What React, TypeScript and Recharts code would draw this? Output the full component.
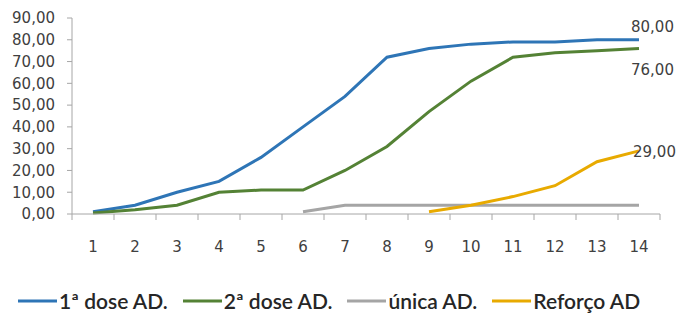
import React from 'react';
import { LineChart, Line, XAxis, YAxis, Legend } from 'recharts';

const categories = [1, 2, 3, 4, 5, 6, 7, 8, 9, 10, 11, 12, 13, 14];
const dose1 = [1, 4, 10, 15, 26, 40, 54, 72, 76, 78, 79, 79, 80, 80];
const dose2 = [0.5, 2, 4, 10, 11, 11, 20, 31, 47, 61, 72, 74, 75, 76];
const unica = [null, null, null, null, null, 1, 4, 4, 4, 4, 4, 4, 4, 4];
const reforco = [null, null, null, null, null, null, null, null, 1, 4, 8, 13, 24, 29];
const yTicks = [0, 10, 20, 30, 40, 50, 60, 70, 80, 90];

const seriesNames = ['1ª dose AD.', '2ª dose AD.', 'única AD.', 'Reforço AD'];
const colors = ['#2E75B6', '#548235', '#A5A5A5', '#E8AA00'];

const data = categories.map((c, i) => ({
  x: c,
  d1: dose1[i],
  d2: dose2[i],
  u: unica[i],
  r: reforco[i],
}));

const fmt = (v: number) => v.toFixed(2).replace('.', ',');

const W = 681;
const H = 313;
const LEFT = 72;
const RIGHT = 660;
const STEP = (RIGHT - LEFT) / categories.length;
const AXIS_GREY = '#A6A6A6';
const TEXT = '#404040';
const FONT = 'DejaVu Sans';

const XTick = (props: any) => {
  const { x, y, payload } = props;
  const isLast = payload.value === categories[categories.length - 1];
  return (
    <g>
      <line x1={x - STEP / 2} y1={y} x2={x - STEP / 2} y2={y + 6} stroke={AXIS_GREY} />
      {isLast && <line x1={x + STEP / 2} y1={y} x2={x + STEP / 2} y2={y + 6} stroke={AXIS_GREY} />}
      <text x={x} y={y + 38} textAnchor="middle" fontFamily={FONT} fontSize={15} fill={TEXT}>
        {payload.value}
      </text>
    </g>
  );
};

const endLabel = (dx: number, dy: number, anchor: string) => (props: any) => {
  const { x, y, value, index } = props;
  if (index !== categories.length - 1 || value == null) return null;
  return (
    <text x={x + dx} y={y + dy} textAnchor={anchor} fontFamily={FONT} fontSize={15} fill={TEXT}>
      {fmt(value)}
    </text>
  );
};

const LegendContent = () => (
  <div style={{ display: 'flex', alignItems: 'center', fontFamily: 'Lato', fontSize: 21, fontWeight: 600, color: '#262626', whiteSpace: 'nowrap' }}>
    {seriesNames.map((n, i) => (
      <div key={n} style={{ display: 'flex', alignItems: 'center', marginRight: 15 }}>
        <svg width={39} height={10}>
          <line x1={0} y1={5} x2={39} y2={5} stroke={colors[i]} strokeWidth={3} />
        </svg>
        <span style={{ marginLeft: 2 }}>{n}</span>
      </div>
    ))}
  </div>
);

export default function App() {
  return (
    <div style={{ position: 'absolute', left: 0, top: 0, background: '#fff' }}>
      <LineChart width={W} height={H} data={data} margin={{ top: 18, right: W - RIGHT, bottom: 0, left: 0 }}>
        <XAxis
          dataKey="x"
          type="number"
          domain={[0.5, 14.5]}
          ticks={categories}
          interval={0}
          height={99}
          tickSize={0}
          tickMargin={0}
          tickLine={false}
          axisLine={{ stroke: AXIS_GREY }}
          tick={<XTick />}
        />
        <YAxis
          width={LEFT}
          domain={[0, 90]}
          ticks={yTicks}
          interval={0}
          tickFormatter={fmt}
          tickSize={5}
          tickMargin={12}
          tickLine={{ stroke: AXIS_GREY }}
          axisLine={{ stroke: AXIS_GREY }}
          tick={{ fontFamily: FONT, fontSize: 15, fill: TEXT }}
        />
        <Legend
          verticalAlign="middle"
          layout="horizontal"
          content={<LegendContent />}
          wrapperStyle={{ top: 288, left: 18, width: 663, height: 28 }}
        />
        <Line dataKey="d1" name={seriesNames[0]} stroke={colors[0]} strokeWidth={3} dot={false} isAnimationActive={false} label={endLabel(-8, -8, 'start')} />
        <Line dataKey="d2" name={seriesNames[1]} stroke={colors[1]} strokeWidth={3} dot={false} isAnimationActive={false} label={endLabel(-8, 27, 'start')} />
        <Line dataKey="u" name={seriesNames[2]} stroke={colors[2]} strokeWidth={3} dot={false} isAnimationActive={false} />
        <Line dataKey="r" name={seriesNames[3]} stroke={colors[3]} strokeWidth={3} dot={false} isAnimationActive={false} label={endLabel(-6, 6, 'start')} />
      </LineChart>
    </div>
  );
}
